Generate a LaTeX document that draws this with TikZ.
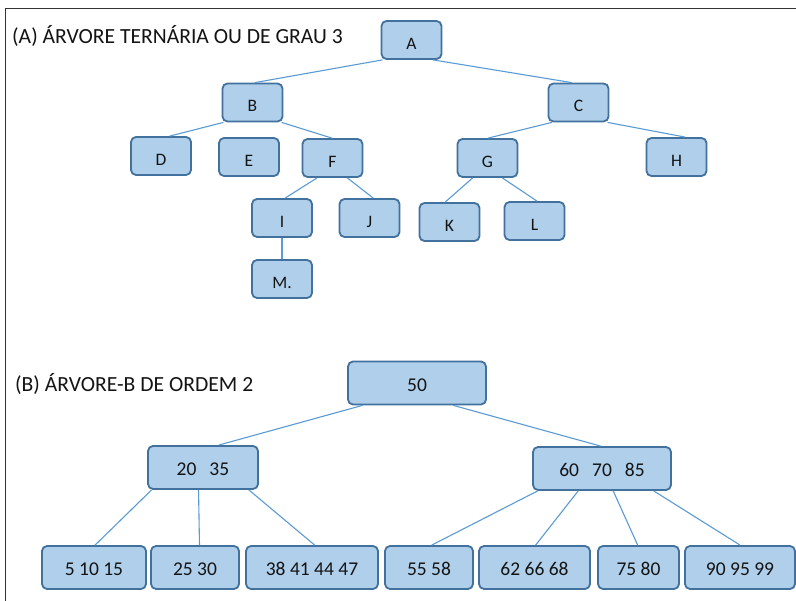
\documentclass[tikz,border=0pt]{standalone}
\usepackage{fontspec}
\setmainfont{Carlito}
\usetikzlibrary{calc}
\definecolor{boxfill}{HTML}{AFCFEB}
\definecolor{boxdraw}{HTML}{41719C}
\definecolor{edgecol}{HTML}{5B9BD5}
\definecolor{txt}{HTML}{141414}
\begin{document}
\begin{tikzpicture}[x=1pt,y=-1pt,
  box/.style={draw=boxdraw,fill=boxfill,line width=1.8pt,rounded corners=5pt,
    inner sep=0pt,text=txt},
  abox/.style={box,minimum width=60pt,minimum height=38pt,font=\fontsize{17.5pt}{19pt}\selectfont,
    text height=19pt,text depth=0pt},
  bbox/.style={box,minimum height=43pt,font=\fontsize{19.5pt}{22pt}\selectfont,
    text height=17pt,text depth=0pt},
  edge/.style={draw=edgecol,line width=1.1pt},
  ttl/.style={anchor=base west,inner sep=0pt,text=txt,font=\fontsize{21.6pt}{24pt}\selectfont}]
\useasboundingbox (0,0) rectangle (796,601);
\fill[white] (0,0) rectangle (796,601);
\coordinate (f0) at (5,601);
\coordinate (f1) at (5,9);
\coordinate (f2) at (796,9);
\draw[line width=1pt,draw=black!80] (f0) -- (f1) -- (f2);

\node[ttl] (tA) at (12,44) {(A) ÁRVORE TERNÁRIA OU DE GRAU 3};
\node[ttl] (tB) at (15,392) {(B) ÁRVORE-B DE ORDEM 2};

% Part A
\node[abox] (A) at (411.5,40) {A};
\node[abox] (B) at (252.5,102.5) {B};
\node[abox] (C) at (578.5,102.5) {C};
\node[abox] (D) at (161,156) {D};
\node[abox] (E) at (249,157) {E};
\node[abox] (F) at (332.5,158) {F};
\node[abox] (G) at (487.5,158) {G};
\node[abox] (H) at (676.5,157) {H};
\node[abox] (I) at (282,218) {I};
\node[abox] (J) at (369.5,218) {J};
\node[abox] (K) at (449.5,222) {K};
\node[abox] (L) at (534.5,221) {L};
\node[abox] (M) at (282,279) {M.};

\newcommand{\lnk}[4]{\draw[edge] ($(#1.south west)!#2!(#1.south east)$) -- ($(#3.north west)!#4!(#3.north east)$);}
\lnk{A}{0.03}{B}{0.54}
\lnk{A}{0.85}{C}{0.39}
\lnk{B}{0.03}{D}{0.64}
\lnk{B}{0.97}{F}{0.49}
\lnk{C}{0.07}{G}{0.51}
\lnk{C}{0.97}{H}{0.64}
\lnk{F}{0.25}{I}{0.55}
\lnk{F}{0.74}{J}{0.56}
\lnk{G}{0.26}{K}{0.43}
\lnk{G}{0.74}{L}{0.54}
\lnk{I}{0.5}{M}{0.5}

% Part B
\node[bbox,minimum width=138pt] (R) at (417,383) {50};
\node[bbox,minimum width=110pt] (N1) at (203,467.5) {20\hspace{13pt}35};
\node[bbox,minimum width=138pt] (N2) at (602,468.5) {60\hspace{13pt}70\hspace{13pt}85};
\node[bbox,minimum width=104pt] (L1) at (94,567.5) {5 10 15};
\node[bbox,minimum width=88pt] (L2) at (195,567.5) {25 30};
\node[bbox,minimum width=132pt] (L3) at (312,567.5) {38 41 44 47};
\node[bbox,minimum width=88pt] (L4) at (429,567.5) {55 58};
\node[bbox,minimum width=111pt] (L5) at (534.5,567.5) {62 66 68};
\node[bbox,minimum width=81pt] (L6) at (638.5,567.5) {75 80};
\node[bbox,minimum width=110pt] (L7) at (740,567.5) {90 95 99};

\lnk{R}{0.11}{N1}{0.64}
\lnk{R}{0.76}{N2}{0.49}
\lnk{N1}{0.04}{L1}{0.51}
\lnk{N1}{0.46}{L2}{0.55}
\lnk{N1}{0.91}{L3}{0.52}
\lnk{N2}{0.04}{L4}{0.53}
\lnk{N2}{0.33}{L5}{0.51}
\lnk{N2}{0.58}{L6}{0.49}
\lnk{N2}{0.87}{L7}{0.5}
\end{tikzpicture}
\end{document}
